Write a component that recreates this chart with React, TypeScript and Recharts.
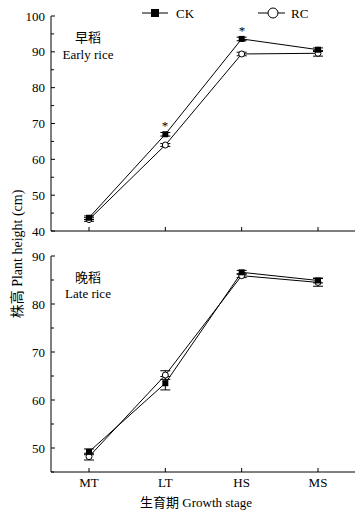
import { ErrorBar, Line, LineChart, XAxis, YAxis } from 'recharts'

const stages = ['MT', 'LT', 'HS', 'MS']

// 早稻 Early rice
const earlyCK = [43.7, 67.0, 93.6, 90.6]
const earlyCKErr = [0.5, 0.5, 0.5, 0.5]
const earlyRC = [43.2, 64.0, 89.4, 89.6]
const earlyRCErr = [0.5, 0.4, 0.5, 0.8]
const earlySig = ['', '*', '*', '']
const earlyTicks = [40, 45, 50, 55, 60, 65, 70, 75, 80, 85, 90, 95, 100]

// 晚稻 Late rice
const lateCK = [49.2, 63.5, 86.6, 84.9]
const lateCKErr = [0.6, 1.4, 0.4, 0.5]
const lateRC = [48.2, 65.2, 85.9, 84.5]
const lateRCErr = [0.7, 0.9, 0.4, 0.8]
const lateSig = ['', '', '', '']
const lateTicks = [45, 50, 55, 60, 65, 70, 75, 80, 85, 90]

const FONT = "'Liberation Serif', 'Times New Roman', 'Noto Sans CJK SC', serif"

const earlyData = stages.map((s, i) => ({
	stage: s,
	ck: earlyCK[i],
	ckErr: earlyCKErr[i],
	rc: earlyRC[i],
	rcErr: earlyRCErr[i],
	sig: earlySig[i],
}))

const lateData = stages.map((s, i) => ({
	stage: s,
	ck: lateCK[i],
	ckErr: lateCKErr[i],
	rc: lateRC[i],
	rcErr: lateRCErr[i],
	sig: lateSig[i],
}))

function YTick(props: any) {
	const { x, y, payload } = props
	const major = payload.value % 10 === 0
	return (
		<g>
			<line x1={x} x2={x + (major ? 4 : 3)} y1={y} y2={y} stroke='#000' strokeWidth={1} />
			{major && (
				<text x={x - 6} y={y} dy='0.35em' textAnchor='end' fontSize={13} fontFamily={FONT} fill='#000'>
					{payload.value}
				</text>
			)}
		</g>
	)
}

function XTick(props: any) {
	const { x, y, payload, showLabel } = props
	return (
		<g>
			<line x1={x} x2={x} y1={y} y2={y - 4} stroke='#000' strokeWidth={1} />
			{showLabel && (
				<text x={x} y={y + 15} textAnchor='middle' fontSize={13} fontFamily={FONT} fill='#000'>
					{payload.value}
				</text>
			)}
		</g>
	)
}

// filled square for CK, with the significance mark above it
const squareDot = (p: any) => (
	<g key={`s${p.index}`}>
		<rect x={p.cx - 3} y={p.cy - 3} width={6} height={6} fill='#000' />
		{p.payload?.sig && (
			<text x={Math.round(p.cx)} y={Math.round(p.cy - 4)} textAnchor='middle' fontSize={13} fontFamily={FONT} fill='#000'>
				{p.payload.sig}
			</text>
		)}
	</g>
)
const circleDot = (p: any) => (
	<circle key={`c${p.index}`} cx={p.cx} cy={p.cy} r={3} fill='#fff' stroke='#000' strokeWidth={1} />
)

function Panel({ data, ticks, domain, height, xHeight, showLabel }: any) {
	return (
		<LineChart width={362} height={height} data={data} margin={{ top: 16, right: 7, bottom: 0, left: 0 }}>
			<XAxis
				dataKey='stage'
				scale='point'
				padding={{ left: 38, right: 37 }}
				height={xHeight}
				tickSize={0}
				tickMargin={0}
				tickLine={false}
				axisLine={{ stroke: '#000' }}
				tick={<XTick showLabel={showLabel} />}
				interval={0}
			/>
			<YAxis
				type='number'
				domain={domain}
				ticks={ticks}
				interval={0}
				width={51}
				tickSize={0}
				tickMargin={0}
				tickLine={false}
				axisLine={{ stroke: '#000' }}
				tick={<YTick />}
				allowDataOverflow
			/>
			<Line dataKey='rc' name='RC' stroke='#000' strokeWidth={1} dot={circleDot} isAnimationActive={false}>
				<ErrorBar dataKey='rcErr' width={5} stroke='#000' strokeWidth={1} direction='y' isAnimationActive={false} />
			</Line>
			<Line dataKey='ck' name='CK' stroke='#000' strokeWidth={1} dot={squareDot} isAnimationActive={false}>
				<ErrorBar dataKey='ckErr' width={5} stroke='#000' strokeWidth={1} direction='y' isAnimationActive={false} />
			</Line>
		</LineChart>
	)
}

export default function App() {
	return (
		<div style={{ position: 'absolute', left: 0, top: 0, width: 362, height: 515, background: '#fff', fontFamily: FONT }}>
			<div style={{ position: 'absolute', left: 0, top: 0 }}>
				<Panel data={earlyData} ticks={earlyTicks} domain={[40, 100]} height={240} xHeight={9} showLabel={false} />
			</div>
			<div style={{ position: 'absolute', left: 0, top: 240 }}>
				<Panel data={lateData} ticks={lateTicks} domain={[45, 90]} height={275} xHeight={43} showLabel />
			</div>
			<svg width={362} height={515} style={{ position: 'absolute', left: 0, top: 0, pointerEvents: 'none' }}>
				<g fontFamily={FONT} fontSize={13} fill='#000'>
					{/* legend */}
					<line x1={142} x2={168} y1={13} y2={13} stroke='#000' />
					<rect x={151} y={9} width={8} height={8} fill='#000' />
					<text x={176} y={13} dy='0.35em'>CK</text>
					<line x1={258} x2={285} y1={13} y2={13} stroke='#000' />
					<circle cx={273} cy={13} r={5} fill='#fff' stroke='#000' />
					<text x={291} y={13} dy='0.35em'>RC</text>
				</g>
				<g fontFamily={FONT} fontSize={13} fill='#000' textAnchor='middle'>
					<text x={88} y={42}>早稻</text>
					<text x={88} y={59}>Early rice</text>
					<text x={88} y={282}>晚稻</text>
					<text x={88} y={298}>Late rice</text>
					<text x={196} y={507}>生育期 Growth stage</text>
					<text x={22} y={254} fontSize={14} transform='rotate(-90 22 254)'>株高 Plant height (cm)</text>
				</g>
			</svg>
		</div>
	)
}
